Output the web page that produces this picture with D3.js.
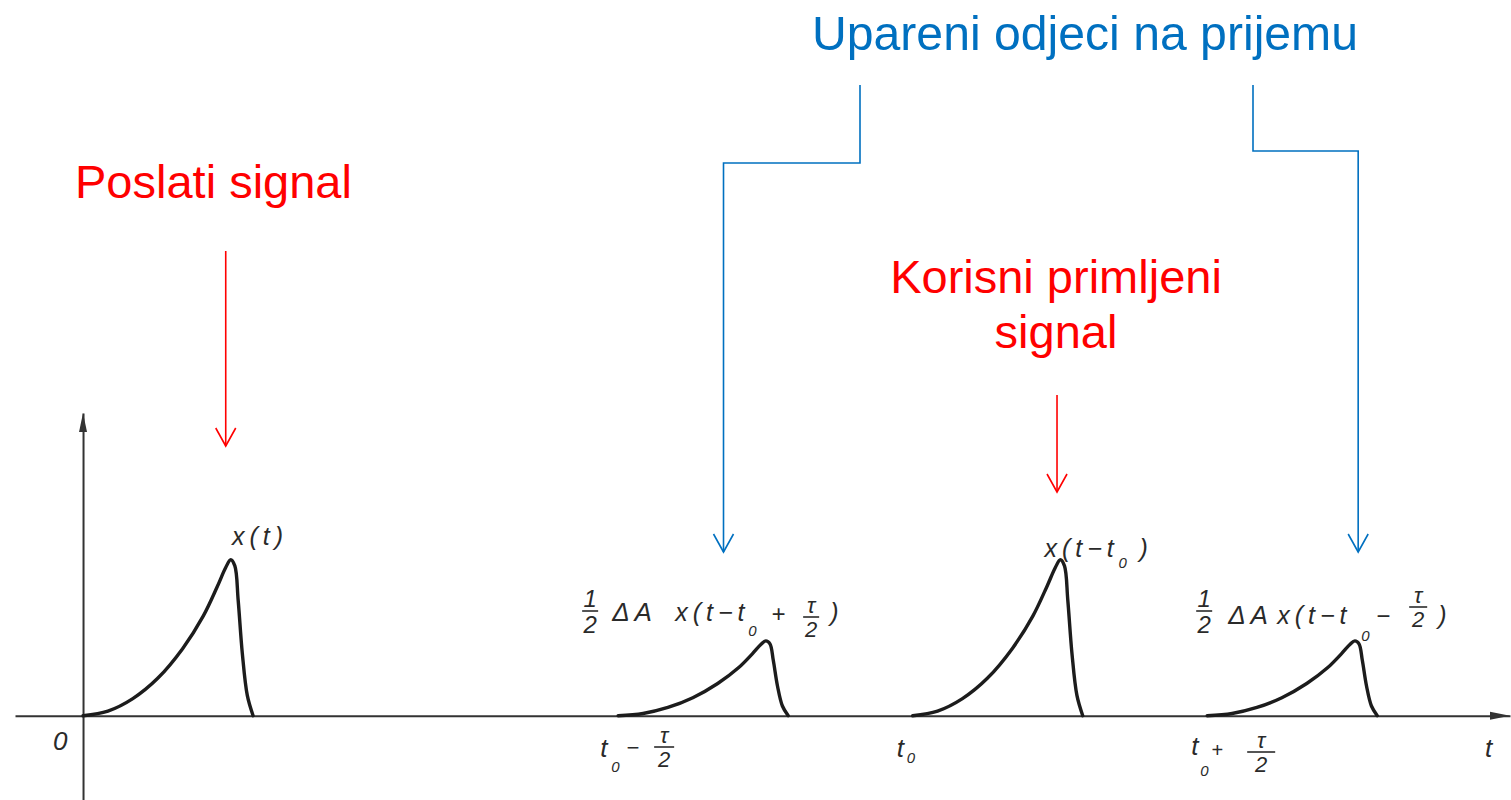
<!DOCTYPE html>
<html>
<head>
<meta charset="utf-8">
<script src="https://cdn.jsdelivr.net/npm/d3@7"></script>
<style>
  body { margin: 0; background: #fff; }
</style>
</head>
<body>
<script>
var width = 1511;
var height = 800;

// shape of the sent pulse x(t): time from pulse start, relative height
var shapeT = [0, 0.30, 0.60, 0.90, 1.20, 1.45, 1.62, 1.72, 1.78, 1.83, 1.87, 1.92, 1.98, 2.05];
var shapeV = [0, 0.03, 0.11, 0.24, 0.43, 0.64, 0.83, 0.95, 1.00, 0.96, 0.74, 0.40, 0.13, 0];

// sent pulse, early echo, useful pulse, late echo
var pulseStart = [0, 6.45, 10, 13.55];
var pulseAmp = [1, 0.48, 1, 0.48];

var t0 = 10;
var halfTau = 3.55;

// where the annotation arrows point (time units)
var arrowRed = [1.72, 11.74];
var arrowBlue = [7.72, 15.37];

var svg = d3.select('body').append('svg')
  .attr('width', width)
  .attr('height', height);

svg.append('rect')
  .attr('width', width)
  .attr('height', height)
  .style('fill', '#fff');

var x = d3.scaleLinear().domain([-0.82, 17.2]).range([15, 1510]);
var y = d3.scaleLinear().domain([-0.54, 1.94]).range([800, 413]);

// axes
var axisColor = '#333';
svg.append('g')
  .attr('transform', 'translate(0,' + y(0) + ')')
  .call(d3.axisBottom(x).tickValues([]).tickSizeOuter(0));
svg.append('g')
  .attr('transform', 'translate(' + x(0) + ',0)')
  .call(d3.axisLeft(y).tickValues([]).tickSizeOuter(0));
svg.selectAll('.domain')
  .style('stroke', axisColor)
  .style('stroke-width', 2);

var xEnd = x.range()[1], yTop = y.range()[1];
svg.append('path')
  .attr('d', 'M' + xEnd + ',' + y(0) + 'L' + (xEnd - 20) + ',' + (y(0) - 4) + 'L' + (xEnd - 20) + ',' + (y(0) + 4) + 'Z')
  .style('fill', axisColor);
svg.append('path')
  .attr('d', 'M' + x(0) + ',' + yTop + 'L' + (x(0) - 4) + ',' + (yTop + 19) + 'L' + (x(0) + 4) + ',' + (yTop + 19) + 'Z')
  .style('fill', axisColor);

// pulses
var line = d3.line()
  .x(function(d) { return x(d[0]); })
  .y(function(d) { return y(d[1]); })
  .curve(d3.curveCatmullRom.alpha(0.5));

pulseStart.forEach(function(s, i) {
  var pts = shapeT.map(function(t, j) { return [s + t, shapeV[j] * pulseAmp[i]]; });
  svg.append('path')
    .attr('d', line(pts))
    .style('fill', 'none')
    .style('stroke', '#1c1c1c')
    .style('stroke-width', 3.4)
    .style('stroke-linejoin', 'round')
    .style('stroke-linecap', 'round');
});

// math labels
var math = svg.append('g')
  .style('font-family', '"Liberation Sans", Arial, sans-serif')
  .style('font-style', 'italic')
  .style('fill', '#2a2a2a');

function txt(px, py, s, size, ls) {
  return math.append('text')
    .attr('x', px).attr('y', py)
    .attr('font-size', size)
    .attr('letter-spacing', ls || 0)
    .text(s);
}
function frac(cx, bar, num, den, size, w) {
  txt(cx, bar - 4, num, size).attr('text-anchor', 'middle');
  math.append('line')
    .attr('x1', cx - w / 2).attr('x2', cx + w / 2)
    .attr('y1', bar).attr('y2', bar)
    .style('stroke', '#2a2a2a').style('stroke-width', 1.6);
  txt(cx, bar + size * 0.9, den, size).attr('text-anchor', 'middle');
}

// tick labels on the time axis
var b = 757;
txt(x(0) - 30, 750, '0', 26);

var a1 = x(t0 - halfTau);
txt(a1 - 18, b, 't', 26);
txt(a1 - 7, b + 15, '0', 15);
txt(a1 + 8, b - 2, '\u2212', 22);
frac(a1 + 46, 747, '\u03c4', '2', 22, 20);

var a2 = x(t0);
txt(a2 - 16, b, 't', 26);
txt(a2 - 6, b + 6, '0', 15);

var a3 = x(t0 + halfTau);
txt(a3 - 16, b - 2, 't', 26);
txt(a3 - 7, b + 19, '0', 15);
txt(a3 + 4, b, '+', 20);
frac(a3 + 54, 752, '\u03c4', '2', 22, 28);

txt(1485, b, 't', 26);

// pulse labels
var p1 = x(pulseStart[0] + 1.77);
txt(p1 + 2, 545, 'x(t)', 25, 5);

var p2 = x(pulseStart[1]);
frac(p2 - 28, 611, '1', '2', 24, 16);
txt(p2 - 6, 621, '\u0394A', 26, 5);
txt(p2 + 57, 621, 'x(t\u2212t', 25, 5);
txt(p2 + 130, 636, '0', 15);
txt(p2 + 153, 622, '+', 24);
frac(p2 + 193, 617, '\u03c4', '2', 22, 16);
txt(p2 + 212, 621, ')', 25);

var p3 = x(pulseStart[2] + 1.77);
txt(p3 - 15, 557, 'x(t\u2212t', 25, 5);
txt(p3 + 59, 568, '0', 15);
txt(p3 + 80, 557, ')', 25);

var p4 = x(pulseStart[3]);
frac(p4 - 3, 611, '1', '2', 24, 16);
txt(p4 + 21, 624, '\u0394A', 26, 5);
txt(p4 + 70, 624, 'x(t\u2212t', 25, 5);
txt(p4 + 154, 641, '0', 15);
txt(p4 + 169, 624, '\u2212', 24);
frac(p4 + 211, 607, '\u03c4', '2', 22, 18);
txt(p4 + 231, 624, ')', 25);

// annotations
var red = '#ff0000', blue = '#0070c0';
var ann = svg.append('g')
  .style('font-family', '"Liberation Sans", Arial, sans-serif')
  .style('font-size', '47px');

function arrowDown(px, yFrom, yTo, color, pts) {
  var path = pts ? pts : [[px, yFrom], [px, yTo]];
  ann.append('path')
    .attr('d', d3.line()(path))
    .style('fill', 'none').style('stroke', color).style('stroke-width', 1.6);
  ann.append('path')
    .attr('d', d3.line()([[px - 10, yTo - 18], [px, yTo], [px + 10, yTo - 18]]))
    .style('fill', 'none').style('stroke', color).style('stroke-width', 1.6);
}

ann.append('text').attr('x', 75).attr('y', 198).style('fill', red).text('Poslati signal');
arrowDown(x(arrowRed[0]), 251, 446, red);

ann.append('text').attr('x', 1056).attr('y', 293).attr('text-anchor', 'middle')
  .style('fill', red).text('Korisni primljeni');
ann.append('text').attr('x', 1056).attr('y', 348).attr('text-anchor', 'middle')
  .style('fill', red).text('signal');
arrowDown(x(arrowRed[1]), 395, 492, red);

ann.append('text').attr('x', 812).attr('y', 50)
  .attr('textLength', 546).attr('lengthAdjust', 'spacingAndGlyphs')
  .style('font-size', '48px').style('fill', blue).text('Upareni odjeci na prijemu');

var bl = x(arrowBlue[0]), br = x(arrowBlue[1]);
arrowDown(bl, 0, 552, blue, [[860, 85], [860, 163], [bl, 163], [bl, 552]]);
arrowDown(br, 0, 552, blue, [[1253, 85], [1253, 151], [br, 151], [br, 552]]);
</script>
</body>
</html>
